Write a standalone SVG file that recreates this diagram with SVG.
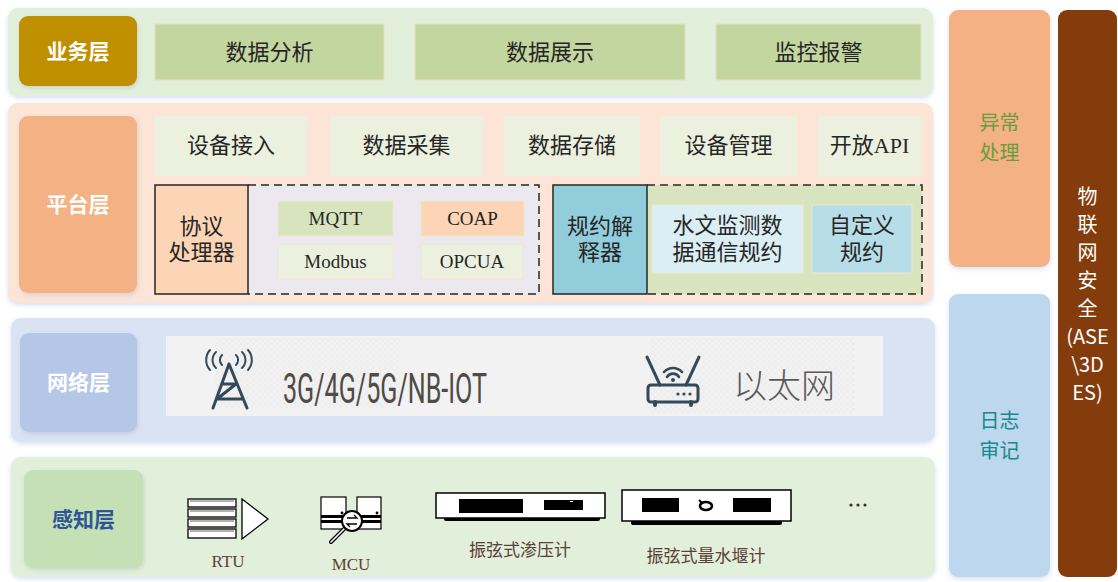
<svg xmlns="http://www.w3.org/2000/svg" width="1118" height="582" viewBox="0 0 1118 582">
  <defs>
    <filter id="soft" x="-5%" y="-10%" width="110%" height="125%">
      <feDropShadow dx="0" dy="2" stdDeviation="2.5" flood-color="#b4c7e7" flood-opacity="0.55"/>
    </filter>
    <filter id="lift" x="-10%" y="-10%" width="125%" height="125%">
      <feDropShadow dx="1" dy="2" stdDeviation="2" flood-color="#9aa9c0" flood-opacity="0.35"/>
    </filter>
    <pattern id="grid" width="6" height="6" patternUnits="userSpaceOnUse">
      <rect width="6" height="6" fill="#f2f2f2"/>
      <rect x="0" y="0" width="3" height="3" fill="#e6e6e6"/>
      <rect x="3" y="3" width="3" height="3" fill="#e9e9e9"/>
    </pattern>
    <style>
      .cn { font-family: "Liberation Serif", "Noto Sans CJK SC", serif; fill: #262626; text-anchor: middle; }
      .lat { font-family: "Liberation Serif", serif; fill: #262626; text-anchor: middle; }
      .tag { font-family: "Noto Sans CJK SC", sans-serif; font-weight: bold; fill: #ffffff; text-anchor: middle; font-size: 21px; }
      .side { font-family: "Noto Sans CJK SC", sans-serif; text-anchor: middle; font-size: 20px; }
      .dev { font-family: "Liberation Serif", "Noto Sans CJK SC", serif; fill: #5a4038; text-anchor: middle; font-size: 17px; }
      .dash { fill: none; stroke: #262626; stroke-width: 1.5; stroke-dasharray: 8 5; }
      .ico { fill: none; stroke: #34495a; stroke-width: 3; stroke-linecap: round; stroke-linejoin: round; }
      .blk { fill: #000000; }
    </style>
  </defs>

  <!-- business layer -->
  <g id="layer-business">
    <rect x="8" y="8" width="925" height="88" rx="10" fill="#e2efda" filter="url(#soft)"/>
    <rect x="19" y="16" width="118" height="70" rx="9" fill="#bf8f00" filter="url(#lift)"/>
    <text class="tag" x="78" y="59">业务层</text>
    <rect x="155" y="24" width="229" height="56" fill="#c4d69f" stroke="#e8dfc0" stroke-width="1"/>
    <text class="cn" x="269.5" y="60" font-size="22">数据分析</text>
    <rect x="415" y="24" width="270" height="56" fill="#c4d69f" stroke="#e8dfc0" stroke-width="1"/>
    <text class="cn" x="550" y="60" font-size="22">数据展示</text>
    <rect x="716" y="24" width="205" height="56" fill="#c4d69f" stroke="#e8dfc0" stroke-width="1"/>
    <text class="cn" x="818.5" y="60" font-size="22">监控报警</text>
  </g>

  <!-- platform layer -->
  <g id="layer-platform">
    <rect x="8" y="103" width="925" height="200" rx="10" fill="#fce4d6" filter="url(#soft)"/>
    <rect x="19" y="116" width="118" height="177" rx="9" fill="#f4b183" filter="url(#lift)"/>
    <text class="tag" x="78" y="212">平台层</text>

    <rect x="155" y="116" width="152" height="60" fill="#ebf1de"/>
    <text class="cn" x="231" y="153" font-size="22">设备接入</text>
    <rect x="330" y="116" width="153" height="60" fill="#ebf1de"/>
    <text class="cn" x="406.5" y="153" font-size="22">数据采集</text>
    <rect x="504" y="116" width="136" height="60" fill="#ebf1de"/>
    <text class="cn" x="572" y="153" font-size="22">数据存储</text>
    <rect x="660" y="116" width="137" height="60" fill="#ebf1de"/>
    <text class="cn" x="728.5" y="153" font-size="22">设备管理</text>
    <rect x="818" y="116" width="103" height="60" fill="#ebf1de"/>
    <text class="cn" x="869.5" y="153" font-size="22">开放API</text>
  </g>

  <g id="protocol-handler">
    <rect x="155" y="185" width="384" height="109" fill="#ebe8ef"/>
    <rect x="155" y="185" width="93" height="109" fill="#fbd5b5" stroke="#262626" stroke-width="1.5"/>
    <text class="cn" x="201.5" y="234" font-size="22">协议</text>
    <text class="cn" x="201.5" y="260" font-size="22">处理器</text>
    <path class="dash" d="M248 185 H539 V294 H248"/>
    <rect x="278" y="201" width="115" height="35" fill="#d7e4bd" stroke="#f0e6d0" stroke-width="1"/>
    <text class="lat" x="335.5" y="225" font-size="19">MQTT</text>
    <rect x="421" y="201" width="103" height="35" fill="#fbd5b5" stroke="#f0e6d0" stroke-width="1"/>
    <text class="lat" x="472.5" y="225" font-size="19">COAP</text>
    <rect x="278" y="244" width="115" height="35" fill="#ebf1de" stroke="#f0e6d0" stroke-width="1"/>
    <text class="lat" x="335.5" y="268" font-size="19">Modbus</text>
    <rect x="421" y="244" width="102" height="35" fill="#ebf1de" stroke="#f0e6d0" stroke-width="1"/>
    <text class="lat" x="472" y="268" font-size="19">OPCUA</text>
  </g>

  <g id="rule-interpreter">
    <rect x="553" y="185" width="369" height="109" fill="#d7e4bd"/>
    <rect x="553" y="185" width="94" height="109" fill="#92cddc" stroke="#262626" stroke-width="1.5"/>
    <text class="cn" x="600" y="234" font-size="22">规约解</text>
    <text class="cn" x="600" y="260" font-size="22">释器</text>
    <path class="dash" d="M647 185 H922 V294 H647"/>
    <rect x="652" y="205" width="151" height="68" fill="#daeef3" stroke="#f0e6d0" stroke-width="1"/>
    <text class="cn" x="727.5" y="233" font-size="22">水文监测数</text>
    <text class="cn" x="727.5" y="260" font-size="22">据通信规约</text>
    <rect x="812" y="205" width="100" height="68" fill="#b7dde8" stroke="#f0e6d0" stroke-width="1"/>
    <text class="cn" x="862" y="233" font-size="22">自定义</text>
    <text class="cn" x="862" y="260" font-size="22">规约</text>
  </g>

  <!-- network layer -->
  <g id="layer-network">
    <rect x="11" y="318" width="924" height="124" rx="10" fill="#dae3f3" filter="url(#soft)"/>
    <rect x="20" y="333" width="117" height="99" rx="9" fill="#b4c7e7" filter="url(#lift)"/>
    <text class="tag" x="78.5" y="390">网络层</text>
    <rect x="166" y="336" width="717" height="80" fill="#f2f2f2"/>
    <rect x="215" y="338" width="185" height="70" fill="url(#grid)" opacity="0.45"/>
    <rect x="650" y="338" width="205" height="76" fill="url(#grid)" opacity="0.45"/>

    <!-- cell tower -->
    <g class="ico">
      <path d="M229 364 L213 408 M229 364 L247 408 M222 384 H236 L217 399 H242"/>
      <path d="M222 365 A7 7 0 0 1 222 355 M216 368 A11 11 0 0 1 216 352 M210 370 A15 15 0 0 1 210 350 M236 365 A7 7 0 0 0 236 355 M242 368 A11 11 0 0 0 242 352 M248 370 A15 15 0 0 0 248 350" stroke-width="2"/>
    </g>
    <text x="283" y="403" font-family="Roboto, Liberation Sans, sans-serif" font-weight="400" font-size="43" fill="#4f4b47" textLength="204" lengthAdjust="spacingAndGlyphs">3G/4G/5G/NB-IOT</text>

    <!-- router -->
    <g class="ico">
      <path d="M647 357 L660 385 M699 357 L686 385"/>
      <rect x="648" y="385" width="50" height="17" rx="3"/>
      <path d="M664 372 A12 12 0 0 1 682 372 M667 377 A7 7 0 0 1 679 377" stroke-width="2.6"/>
      <circle cx="673" cy="380" r="2" fill="#34495a" stroke="none"/>
      <path d="M655 402 V405 M691 402 V405" stroke-width="4"/>
      <circle cx="678" cy="394" r="1.6" fill="#34495a" stroke="none"/>
      <circle cx="684" cy="394" r="1.6" fill="#34495a" stroke="none"/>
      <circle cx="690" cy="394" r="1.6" fill="#34495a" stroke="none"/>
    </g>
    <text x="733" y="398" font-family="Noto Sans CJK SC, sans-serif" font-size="34" font-weight="300" fill="#595959">以太网</text>
  </g>

  <!-- perception layer -->
  <g id="layer-perception">
    <rect x="11" y="457" width="924" height="120" rx="10" fill="#e2efda" filter="url(#soft)"/>
    <rect x="24" y="470" width="119" height="98" rx="9" fill="#c5e0b4" filter="url(#lift)"/>
    <text class="tag" x="83.5" y="527" style="fill:#2f5597">感知层</text>
  </g>

  <g id="device-rtu">
    <g fill="#ffffff" stroke="#000000" stroke-width="1.3">
      <rect x="188" y="499" width="48" height="8"/>
      <rect x="188" y="509" width="48" height="8"/>
      <rect x="188" y="519" width="48" height="8"/>
      <rect x="188" y="529" width="48" height="9"/>
      <path d="M242 499 L268 519 L242 539 Z"/>
    </g>
    <path d="M190 501 H234 M190 511 H234 M190 521 H234 M190 531 H234" stroke="#000" stroke-width="0.6" fill="none"/>
    <text class="dev" x="228" y="567">RTU</text>
  </g>

  <g id="device-mcu">
    <rect x="321" y="497" width="25" height="32" fill="#fff" stroke="#000" stroke-width="1.2"/>
    <rect x="357" y="497" width="24" height="32" fill="#fff" stroke="#000" stroke-width="1.2"/>
    <rect x="321" y="515" width="60" height="3" class="blk"/>
    <rect x="321" y="520" width="60" height="3" class="blk"/>
    <circle cx="342" cy="513" r="1.4" class="blk"/>
    <circle cx="377" cy="513" r="1.4" class="blk"/>
    <line x1="345" y1="528" x2="331" y2="542" stroke="#000" stroke-width="4" stroke-linecap="round"/>
    <line x1="345" y1="528" x2="331" y2="542" stroke="#fff" stroke-width="1.6" stroke-linecap="round"/>
    <circle cx="352" cy="521" r="10" fill="#fff" stroke="#000" stroke-width="2"/>
    <path d="M347 518 H357 L354 515 M357 524 H347 L350 527" fill="none" stroke="#000" stroke-width="1.3"/>
    <text class="dev" x="351" y="570">MCU</text>
  </g>

  <g id="device-piezometer">
    <rect x="444" y="516" width="156" height="5" rx="2" class="blk"/>
    <rect x="436" y="493" width="169" height="25" fill="#fff" stroke="#000" stroke-width="1.5"/>
    <rect x="459" y="499" width="64" height="14" class="blk"/>
    <rect x="544" y="500" width="39" height="10" class="blk"/>
    <rect x="570" y="501" width="3" height="1" fill="#fff"/>
    <text class="dev" x="520" y="556">振弦式渗压计</text>
  </g>

  <g id="device-weir">
    <rect x="631" y="519" width="151" height="6" rx="2" class="blk"/>
    <rect x="622" y="490" width="169" height="31" fill="#fff" stroke="#000" stroke-width="1.5"/>
    <rect x="642" y="498" width="37" height="14" class="blk"/>
    <rect x="733" y="498" width="38" height="14" class="blk"/>
    <ellipse cx="706" cy="506" rx="6" ry="4" fill="none" stroke="#000" stroke-width="2.6"/>
    <path d="M699 500 L702 503" stroke="#000" stroke-width="2"/>
    <text class="dev" x="706" y="562">振弦式量水堰计</text>
  </g>

  <g id="more-devices">
    <circle cx="851" cy="505" r="1.6" fill="#333"/>
    <circle cx="858" cy="505" r="1.6" fill="#333"/>
    <circle cx="865" cy="505" r="1.6" fill="#333"/>
  </g>

  <!-- cross-cutting columns -->
  <g id="exception-handling">
    <rect x="949" y="10" width="101" height="257" rx="9" fill="#f4b183" filter="url(#soft)"/>
    <text class="side" x="999.5" y="130" fill="#6a9b3f">异常</text>
    <text class="side" x="999.5" y="160" fill="#6a9b3f">处理</text>
  </g>

  <g id="log-audit">
    <rect x="949" y="294" width="101" height="283" rx="9" fill="#bdd7ee" filter="url(#soft)"/>
    <text class="side" x="999.5" y="428" fill="#17898c">日志</text>
    <text class="side" x="999.5" y="458" fill="#17898c">审记</text>
  </g>

  <g id="iot-security">
    <rect x="1058" y="10" width="59" height="567" rx="9" fill="#843c0c"/>
    <g class="side" fill="#ffffff">
      <text x="1087.5" y="204">物</text>
      <text x="1087.5" y="232">联</text>
      <text x="1087.5" y="260">网</text>
      <text x="1087.5" y="288">安</text>
      <text x="1087.5" y="316">全</text>
      <text x="1087.5" y="344">(ASE</text>
      <text x="1087.5" y="372">\3D</text>
      <text x="1087.5" y="400">ES)</text>
    </g>
  </g>
</svg>
